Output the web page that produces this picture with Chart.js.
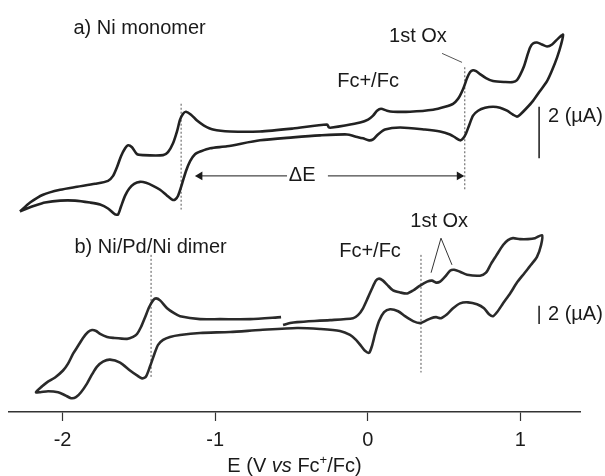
<!DOCTYPE html>
<html>
<head>
<meta charset="utf-8">
<script src="https://cdn.jsdelivr.net/npm/chart.js@4"></script>
<style>
  body { margin: 0; background: #fff; }
  #wrap { width: 605px; height: 476px; position: relative; }
</style>
</head>
<body>
<div id="wrap"><canvas id="cv-chart"></canvas></div>
<script>
// a) Ni monomer: potential (V vs Fc+/Fc) and current (uA, offset)
const monomerE = [
  -2.279, -2.213, -2.128, -2.016, -1.905, -1.787, -1.702, -1.669, -1.643, -1.617,
  -1.590, -1.571, -1.545, -1.512, -1.472, -1.341, -1.309, -1.276, -1.250, -1.230,
  -1.210, -1.191, -1.158, -1.119, -1.073, -1.014, -0.902, -0.706, -0.490, -0.267,
  -0.254, -0.234, -0.149, -0.050, 0.002, 0.035, 0.061, 0.087, 0.126, 0.166,
  0.277, 0.428, 0.507, 0.559, 0.592, 0.625, 0.651, 0.670, 0.690, 0.710,
  0.736, 0.775, 0.821, 0.900, 0.952, 0.978, 0.998, 1.024, 1.044, 1.064,
  1.083, 1.109, 1.142, 1.175, 1.208, 1.247, 1.280,
  1.267, 1.241, 1.208, 1.175, 1.129, 1.083, 1.037, 0.998, 0.978, 0.952,
  0.913, 0.867, 0.821, 0.769, 0.723, 0.690, 0.664, 0.644, 0.625, 0.605,
  0.572, 0.539, 0.474, 0.375, 0.212, 0.113, 0.067, 0.035, 0.009, -0.031,
  -0.083, -0.136, -0.313, -0.490, -0.706, -0.922, -1.033, -1.092, -1.132, -1.164,
  -1.191, -1.217, -1.243, -1.263, -1.282, -1.315, -1.361, -1.407, -1.453, -1.492,
  -1.531, -1.564, -1.590, -1.617, -1.636, -1.656, -1.702, -1.754, -1.820, -1.918,
  -2.016, -2.115, -2.180, -2.233, -2.279
];
const monomerI = [
  -1.885, -1.538, -1.231, -1.038, -0.923, -0.808, -0.692, -0.500, -0.154, 0.269,
  0.577, 0.692, 0.615, 0.346, 0.308, 0.308, 0.423, 0.769, 1.231, 1.692,
  1.923, 2.000, 1.885, 1.654, 1.462, 1.308, 1.231, 1.231, 1.346, 1.500,
  1.385, 1.385, 1.462, 1.577, 1.692, 1.846, 2.038, 2.115, 2.038, 2.000,
  2.000, 2.077, 2.192, 2.308, 2.500, 2.885, 3.308, 3.538, 3.615, 3.577,
  3.462, 3.308, 3.192, 3.154, 3.154, 3.231, 3.423, 3.769, 4.154, 4.500,
  4.654, 4.692, 4.615, 4.538, 4.615, 4.846, 5.000,
  4.615, 4.115, 3.615, 3.192, 2.808, 2.423, 2.115, 1.885, 1.808, 1.885,
  2.038, 2.154, 2.192, 2.154, 2.038, 1.846, 1.462, 1.154, 0.962, 0.885,
  1.000, 1.115, 1.231, 1.308, 1.385, 1.308, 1.115, 0.923, 0.885, 0.962,
  1.038, 1.115, 1.077, 1.000, 0.885, 0.654, 0.577, 0.462, 0.346, 0.077,
  -0.308, -0.808, -1.269, -1.423, -1.423, -1.269, -1.038, -0.885, -0.769, -0.731,
  -0.808, -1.000, -1.269, -1.692, -2.000, -2.000, -1.769, -1.615, -1.538, -1.462,
  -1.462, -1.538, -1.654, -1.769, -1.885
];

// b) Ni/Pd/Ni dimer, scan starts near -0.55 V
const dimerE = [
  -0.555, -0.509, -0.463, -0.247, -0.096, -0.064, -0.031, 0.002, 0.028, 0.054,
  0.074, 0.100, 0.126, 0.166, 0.212, 0.258, 0.297, 0.343, 0.389, 0.421,
  0.448, 0.474, 0.507, 0.539, 0.566, 0.605, 0.651, 0.736, 0.775, 0.808,
  0.841, 0.887, 0.919, 0.952, 0.998, 1.050, 1.096, 1.142,
  1.136, 1.109, 1.070, 1.024, 0.978, 0.933, 0.887, 0.847, 0.821, 0.795,
  0.762, 0.716, 0.657, 0.605, 0.559, 0.520, 0.480, 0.448, 0.415, 0.375,
  0.343, 0.297, 0.244, 0.199, 0.146, 0.107, 0.074, 0.048, 0.028, 0.009,
  -0.018, -0.044, -0.077, -0.116, -0.182, -0.313, -0.463, -0.706, -0.902, -1.099,
  -1.230, -1.296, -1.341, -1.374, -1.400, -1.427, -1.453, -1.479, -1.512, -1.558,
  -1.623, -1.689, -1.735, -1.774, -1.807, -1.839, -1.879, -1.912, -1.944, -1.984,
  -2.029, -2.095, -2.147, -2.174,
  -2.134, -2.102, -2.049, -1.997, -1.964, -1.931, -1.898, -1.866, -1.833, -1.807,
  -1.780, -1.754, -1.708, -1.669, -1.577, -1.538, -1.512, -1.486, -1.459, -1.433,
  -1.407, -1.387, -1.361, -1.315, -1.269, -1.230, -1.099, -0.968, -0.771, -0.568
];
const dimerI = [
  1.730, 1.946, 2.054, 2.270, 2.486, 2.811, 3.568, 4.757, 5.730, 6.595,
  6.811, 6.595, 6.162, 5.514, 5.297, 5.189, 5.514, 6.054, 6.486, 6.595,
  6.378, 6.486, 7.027, 7.676, 7.784, 7.568, 7.243, 7.135, 7.459, 8.432,
  9.297, 10.486, 11.027, 11.243, 11.135, 11.135, 11.243, 11.568,
  10.486, 9.189, 8.324, 7.351, 6.378, 5.189, 4.108, 3.135, 2.703, 2.919,
  3.568, 4.000, 4.216, 4.108, 3.568, 2.919, 2.486, 2.595, 2.486, 2.162,
  1.946, 2.162, 2.703, 3.243, 3.459, 3.135, 2.162, 0.757, -0.541, -1.297,
  -1.081, -0.541, 0.108, 0.649, 1.081, 1.297, 1.405, 1.189, 0.973, 0.865,
  0.649, 0.432, 0.108, -0.432, -1.514, -2.811, -3.892, -4.108, -3.784, -3.243,
  -2.378, -2.054, -2.270, -2.811, -3.676, -4.649, -5.622, -6.162, -6.270, -5.946,
  -5.622, -5.514, -5.622, -5.622,
  -4.973, -4.541, -4.000, -3.243, -2.486, -1.405, -0.541, 0.324, 0.973, 1.189,
  1.081, 0.757, 0.432, 0.324, 0.216, 0.432, 0.757, 1.514, 2.595, 3.676,
  4.432, 4.649, 4.432, 3.568, 3.027, 2.703, 2.378, 2.378, 2.378, 2.595
];

const potentialTicks = [-2, -1, 0, 1];

// text notes, placed in data units of their trace
const notes = [
  { text: 'a) Ni monomer', e: -1.495, i: 5.23, axis: 'yA', align: 'center' },
  { text: 'Fc+/Fc', e: 0.002, i: 3.19, axis: 'yA', align: 'center' },
  { text: '1st Ox', e: 0.329, i: 4.92, axis: 'yA', align: 'center' },
  { text: '2 (\u00b5A)', e: 1.181, i: 1.81, axis: 'yA', align: 'left' },
  { text: '\u0394E', e: -0.43, i: -0.5, axis: 'yA', align: 'center' },
  { text: 'b) Ni/Pd/Ni dimer', e: -1.423, i: 10.27, axis: 'yB', align: 'center' },
  { text: 'Fc+/Fc', e: 0.015, i: 9.73, axis: 'yB', align: 'center' },
  { text: '1st Ox', e: 0.468, i: 13.08, axis: 'yB', align: 'center' },
  { text: '2 (\u00b5A)', e: 1.181, i: 2.92, axis: 'yB', align: 'left' }
];

const FONT = "'Liberation Sans', Arial, sans-serif";
const INK = '#1a1a1a';

function zip(xs, ys) {
  return xs.map((x, k) => ({ x: x, y: ys[k] }));
}

function seg(x1, y1, x2, y2, axis, opts) {
  return Object.assign({
    data: [{ x: x1, y: y1 }, { x: x2, y: y2 }],
    yAxisID: axis,
    showLine: true,
    borderColor: INK,
    borderWidth: 1,
    pointRadius: 0,
    tension: 0
  }, opts || {});
}

const notesPlugin = {
  id: 'notes',
  afterDatasetsDraw(chart) {
    const ctx = chart.ctx;
    const xs = chart.scales.x;
    ctx.save();
    ctx.fillStyle = INK;
    ctx.textBaseline = 'middle';
    ctx.font = '20px ' + FONT;
    notes.forEach(n => {
      ctx.textAlign = n.align;
      ctx.fillText(n.text, xs.getPixelForValue(n.e), chart.scales[n.axis].getPixelForValue(n.i));
    });

    // axis title with italic "vs" and superscript +
    const parts = [
      { t: 'E (V ', f: '20px ' + FONT, dy: 0 },
      { t: 'vs', f: 'italic 20px ' + FONT, dy: 0 },
      { t: ' Fc', f: '20px ' + FONT, dy: 0 },
      { t: '+', f: '13px ' + FONT, dy: -6 },
      { t: '/Fc)', f: '20px ' + FONT, dy: 0 }
    ];
    let total = 0;
    parts.forEach(p => { ctx.font = p.f; p.w = ctx.measureText(p.t).width; total += p.w; });
    const area = chart.chartArea;
    let px = (area.left + area.right) / 2 - total / 2;
    const py = chart.height - 10;
    ctx.textAlign = 'left';
    parts.forEach(p => {
      ctx.font = p.f;
      ctx.fillText(p.t, px, py + p.dy);
      px += p.w;
    });
    ctx.restore();
  }
};

function loadChart() {
  const ctx = document.getElementById('cv-chart').getContext('2d');
  const dotted = { borderDash: [2, 2], borderColor: '#555' };
  const arrowHead = {
    pointRadius: [0, 5],
    pointStyle: 'triangle',
    pointBackgroundColor: INK,
    pointBorderColor: INK,
    pointBorderWidth: 0
  };

  new Chart(ctx, {
    type: 'scatter',
    data: {
      datasets: [
        {
          label: 'a) Ni monomer',
          data: zip(monomerE, monomerI),
          yAxisID: 'yA',
          showLine: true,
          borderColor: '#222',
          borderWidth: 2.6,
          pointRadius: 0,
          tension: 0.25
        },
        {
          label: 'b) Ni/Pd/Ni dimer',
          data: zip(dimerE, dimerI),
          yAxisID: 'yB',
          showLine: true,
          borderColor: '#2a2a2a',
          borderWidth: 2.6,
          pointRadius: 0,
          tension: 0.25
        },
        // dotted markers
        seg(-1.223, 2.31, -1.223, -1.81, 'yA', dotted),
        seg(0.636, 3.73, 0.636, -1.04, 'yA', dotted),
        seg(-1.420, 9.41, -1.420, -4.0, 'yB', dotted),
        seg(0.349, 9.41, 0.349, -3.46, 'yB', dotted),
        // scale bars, 2 uA each
        seg(1.123, 2.19, 1.123, 0.19, 'yA', { borderWidth: 1.5 }),
        seg(1.123, 3.85, 1.123, 1.85, 'yB', { borderWidth: 1.5 }),
        // 1st Ox leaders
        seg(0.487, 4.27, 0.618, 3.92, 'yA', { borderColor: '#555' }),
        seg(0.415, 7.46, 0.480, 11.24, 'yB', { borderColor: '#333' }),
        seg(0.480, 11.24, 0.552, 8.32, 'yB', { borderColor: '#333' }),
        // delta E arrows
        seg(-0.529, -0.5, -1.100, -0.5, 'yA', Object.assign({ pointRotation: [0, -90] }, arrowHead)),
        seg(-0.261, -0.5, 0.600, -0.5, 'yA', Object.assign({ pointRotation: [0, 90] }, arrowHead))
      ]
    },
    options: {
      responsive: true,
      maintainAspectRatio: false,
      animation: false,
      layout: {
        padding: { left: 9, right: 25, top: 0, bottom: 17 }
      },
      plugins: {
        legend: { display: false },
        tooltip: { enabled: false }
      },
      scales: {
        x: {
          type: 'linear',
          min: -2.351,
          max: 1.391,
          afterBuildTicks: axis => {
            axis.ticks = potentialTicks.map(v => ({ value: v }));
          },
          grid: {
            drawOnChartArea: false,
            drawTicks: true,
            tickLength: 9,
            tickWidth: 1.2,
            tickColor: '#333'
          },
          border: { display: true, color: '#333', width: 1.5 },
          ticks: {
            padding: 7,
            color: INK,
            font: { family: FONT, size: 20 }
          }
        },
        yA: { type: 'linear', display: false, min: -9.692, max: 6.154 },
        yB: { type: 'linear', display: false, min: -7.784, max: 36.757 }
      }
    },
    plugins: [notesPlugin]
  });
}

loadChart();
</script>
</body>
</html>
